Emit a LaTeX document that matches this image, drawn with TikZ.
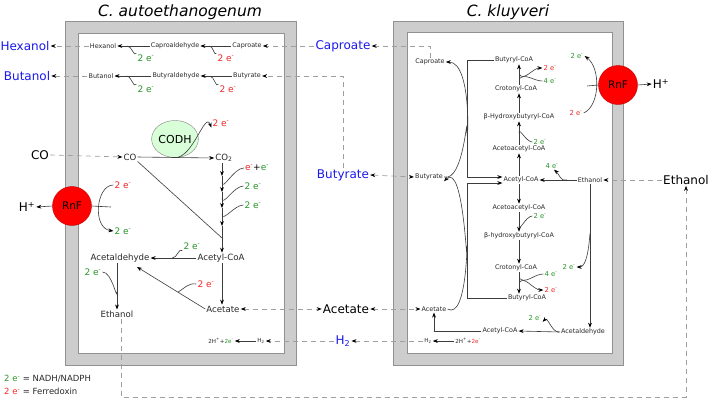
\documentclass[tikz,border=0pt]{standalone}
\usepackage{fontspec}
\setmainfont{DejaVu Sans}
\usetikzlibrary{arrows.meta,calc,shapes.geometric}
\definecolor{eg}{RGB}{40,150,40}
\definecolor{er}{RGB}{240,40,40}
\definecolor{eb}{RGB}{25,25,235}
\definecolor{dk}{RGB}{40,40,40}
\definecolor{lncol}{RGB}{60,60,60}
\definecolor{boxgray}{RGB}{205,205,205}
\definecolor{boxedge}{RGB}{145,145,145}
\newcommand{\el}{2 e\textsuperscript{-}}
\begin{document}
\begin{tikzpicture}[x=1pt,y=-1pt,
  >={Stealth[length=5pt,width=3.8pt,color=black]},
  sm/.style={font=\fontsize{6.4}{7}\selectfont, text=dk, inner sep=1pt},
  md/.style={font=\fontsize{8.6}{10}\selectfont, text=dk, inner sep=1pt},
  lg/.style={font=\fontsize{12}{14}\selectfont, inner sep=1pt},
  tn/.style={font=\fontsize{5.6}{6}\selectfont, text=dk, inner sep=1pt},
  ttl/.style={font=\fontsize{15.5}{18}\selectfont\itshape, inner sep=0pt},
  elg/.style={font=\fontsize{9}{10}\selectfont, text=eg, inner sep=1pt},
  elr/.style={font=\fontsize{9}{10}\selectfont, text=er, inner sep=1pt},
  rlg/.style={font=\fontsize{6.8}{8}\selectfont, text=eg, inner sep=1pt},
  rlr/.style={font=\fontsize{6.8}{8}\selectfont, text=er, inner sep=1pt},
  leg/.style={font=\fontsize{8.5}{10}\selectfont, text=dk, inner sep=0pt},
  conn/.style={draw=lncol, line width=0.6pt},
  dsh/.style={draw=gray!75, line width=0.7pt, dash pattern=on 5pt off 4pt},
  darr/.style={dsh, ->},
  dbarr/.style={dsh, <->},
  rnf/.style={circle, fill=red, draw=red!75!black, minimum size=39pt, inner sep=0pt, font=\fontsize{10.5}{12}\selectfont},
  codh/.style={ellipse, fill=green!15, draw=gray, minimum width=44pt, minimum height=37pt, inner sep=0pt, font=\fontsize{11}{12}\selectfont}
]
\useasboundingbox (0,0) rectangle (709,400);

% cells
\filldraw[fill=boxgray, draw=boxedge] (65,21) rectangle (296,365);
\filldraw[fill=white, draw=boxedge] (78,33) rectangle (284,353);
\filldraw[fill=boxgray, draw=boxedge] (393,21) rectangle (623,365);
\filldraw[fill=white, draw=boxedge] (407,32) rectangle (612,353);

% titles
\node[ttl] (t1) at (180,12) {C. autoethanogenum};
\node[ttl] (t2) at (508,12) {C. kluyveri};

% outside labels
\node[lg, text=eb] (Hex) at (25,46) {Hexanol};
\node[lg, text=eb] (But) at (27,76) {Butanol};
\node[lg, text=eb] (Cap) at (343,46) {Caproate};
\node[lg, text=eb] (Buty) at (343,175) {Butyrate};
\node[lg] (COb) at (40,155) {CO};
\node[lg] (Acb) at (346,309) {Acetate};
\node[lg, text=eb] (H2) at (343,341) {H\textsubscript{2}};
\node[lg] (Eth) at (686,180) {Ethanol};
\node[lg] (Hl) at (27,207) {H\textsuperscript{+}};
\node[lg] (Hr) at (661,84) {H\textsuperscript{+}};

% ---------- left cell ----------
\node[sm] (lhex) at (103,46) {Hexanol};
\node[sm] (lcapal) at (175,46) {Caproaldehyde};
\node[sm] (lcap) at (247,46) {Caproate};
\node[sm] (lbut) at (101,76) {Butanol};
\node[sm] (lbutal) at (176,76) {Butyraldehyde};
\node[sm] (lbutr) at (247,76) {Butyrate};
\node[elg] (e1) at (146,58) {\el};
\node[elr] (e2) at (226,58) {\el};
\node[elg] (e3) at (146,89) {\el};
\node[elr] (e4) at (228,89) {\el};

\draw[conn,->] (lcap.west) -- (lcapal.east);
\draw[conn,->] (lcapal.west) -- (lhex.east);
\draw[conn,->] (lbutr.west) -- (lbutal.east);
\draw[conn,->] (lbutal.west) -- (lbut.east);
\draw[conn] (e2.north west) to[out=-125,in=0] ($(lcapal.east)+(9,0)$);
\draw[conn] (e1.north west) to[out=-125,in=0] ($(lhex.east)+(10,0)$);
\draw[conn] (e4.north west) to[out=-125,in=0] ($(lbutal.east)+(9,0)$);
\draw[conn] (e3.north west) to[out=-125,in=0] ($(lbut.east)+(12,0)$);

\node[codh] (codh) at (175,139) {CODH};
\node[md] (co) at (130,157) {CO};
\node[md] (co2) at (224,158) {CO\textsubscript{2}};
\node[elr] (e5) at (221,123) {\el};
\draw[conn,->] (co.east) -- (co2.west);
\draw[conn,->] (codh.south) to[out=0,in=110] (e5.south west);

\node[md] (acoa) at (221,258) {Acetyl-CoA};
\node[md] (ald) at (120,258) {Acetaldehyde};
\node[md] (eth) at (117,314) {Ethanol};
\node[md] (ac) at (223,309) {Acetate};

\coordinate (vx) at (222,0);
\coordinate (p1) at (222,176);
\coordinate (p2) at (222,192);
\coordinate (p3) at (222,208);
\coordinate (p4) at (222,226);
\draw[conn,->] (co2.south -| vx) -- (p1);
\draw[conn,->] (p1) -- (p2);
\draw[conn,->] (p2) -- (p3);
\draw[conn,->] (p3) -- (p4);
\draw[conn,->] (p4) -- (acoa.north -| vx);
\node[font=\fontsize{9}{10}\selectfont, inner sep=1pt] (e6) at (257,168) {\textcolor{er}{e\textsuperscript{-}}+\textcolor{eg}{e\textsuperscript{-}}};
\node[elg] (e7) at (253,186) {\el};
\node[elg] (e8) at (253,205) {\el};
\draw[conn] (e6.west) to[out=180,in=-90] (222,182);
\draw[conn] (e7.west) to[out=180,in=-90] (222,198);
\draw[conn] (e8.west) to[out=180,in=-90] (222,214);
\draw[conn] (co.south east) -- (222,238);

\node[elg] (e9) at (192,246) {\el};
\draw[conn,->] (acoa.west) -- (ald.east);
\draw[conn] (e9.south west) to[out=135,in=0] ($(acoa.west)+(-24,0)$);
\draw[conn,->] (acoa.south -| vx) -- (ac.north -| vx);

\coordinate (aldin) at (137,267);
\draw[conn,->] (ac.west) -- (aldin);
\node[elr] (e10) at (206,284) {\el};
\draw[conn] (e10.west) to[out=170,in=32] ($(ac.west)!0.4!(aldin)$);

\node[elg] (e11) at (93,272) {\el};
\draw[conn,->] (ald.south -| eth.north) -- (eth.north);
\draw[conn] (e11.east) to[out=0,in=-90] (117,292);

\node[tn] (h2l) at (261,341) {H\textsubscript{2}};
\node[tn] (hpl) at (221,341) {2H\textsuperscript{+}+\textcolor{eg}{2e}\textsuperscript{-}};
\draw[conn,->] (h2l.west) -- (hpl.east);

% left RnF
\node[rnf] (rnfl) at (72,206) {RnF};
\coordinate (rlend) at (111,207);
\draw[conn,->] (rnfl.west) -- (Hl.east);
\draw[conn] (rnfl.east) -- (rlend);
\node[elr] (e12) at (123,185) {\el};
\node[elg] (e13) at (123,231) {\el};
\draw[conn,->] (e12.west) .. controls (96,185) and (92,228) .. (e13.west);

% legend
\node[leg, anchor=west] (lg1) at (4,379) {\textcolor{eg}{\el} = NADH/NADPH};
\node[leg, anchor=west] (lg2) at (4,391) {\textcolor{er}{\el} = Ferredoxin};

% ---------- right cell ----------
\node[sm] (rcap) at (430,62) {Caproate};
\node[sm] (rbut) at (429,177) {Butyrate};
\node[sm] (rac) at (434,309) {Acetate};
\node[tn] (rh2) at (428,341) {H\textsubscript{2}};
\node[tn] (rhp) at (468,341) {2H\textsuperscript{+}+\textcolor{er}{2e}\textsuperscript{-}};
\node[sm] (bc1) at (514,60) {Butyryl-CoA};
\node[sm] (cc1) at (516,89) {Crotonyl-CoA};
\node[sm] (hb1) at (519,117) {β-Hydroxybutyryl-CoA};
\node[sm] (aa1) at (519,149) {Acetoacetyl-CoA};
\node[sm] (acr) at (521,180) {Acetyl-CoA};
\node[sm] (aa2) at (519,208) {Acetoacetyl-CoA};
\node[sm] (hb2) at (519,236) {β-hydroxybutyryl-CoA};
\node[sm] (cc2) at (516,268) {Crotonyl-CoA};
\node[sm] (bc2) at (527,298) {Butyryl-CoA};
\node[sm] (reth) at (590,180) {Ethanol};
\node[sm] (rald) at (583,332) {Acetaldehyde};
\node[sm] (racoa) at (500,331) {Acetyl-CoA};

\coordinate (cx) at (519,0);
\draw[conn,->] (acr.north -| cx) -- (aa1.south -| cx);
\draw[conn,->] (aa1.north -| cx) -- (hb1.south -| cx);
\draw[conn,->] (hb1.north -| cx) -- (cc1.south -| cx);
\draw[conn,->] (cc1.north -| cx) -- (bc1.south -| cx);
\draw[conn,->] (acr.south -| cx) -- (aa2.north -| cx);
\draw[conn,->] (aa2.south -| cx) -- (hb2.north -| cx);
\draw[conn,->] (hb2.south -| cx) -- (cc2.north -| cx);
\draw[conn,->] (cc2.south -| cx) -- (bc2.north -| cx);

\node[rlr] (r1) at (550,68) {\el};
\node[rlg] (g1) at (550,81) {4 e\textsuperscript{-}};
\draw[conn] (g1.west) to[out=180,in=45] (519,79);
\draw[conn,->] (519,74) to[out=-60,in=180] (r1.west);
\node[rlg] (g2) at (540,142) {\el};
\draw[conn] (g2.west) to[out=180,in=90] (519,133);
\node[rlg] (g3) at (552,166) {4 e\textsuperscript{-}};
\node[rlg] (g4) at (540,216) {\el};
\draw[conn] (g4.west) to[out=180,in=-90] (519,226);
\node[rlg] (g5) at (551,274) {4 e\textsuperscript{-}};
\node[rlr] (r5) at (551,290) {\el};
\draw[conn] (g5.west) to[out=180,in=-45] (519,278);
\draw[conn,->] (519,283) to[out=60,in=180] (r5.west);

\draw[conn,->] (reth.west) -- (acr.east);
\draw[conn,->] (567,180) to[out=-160,in=-40] ($(g3.south)+(2,0)$);

\draw[conn,->] (reth.south) -- (reth.south |- rald.north);
\node[rlg] (g6) at (569,267) {\el};
\draw[conn,->] (590,236) to[out=90,in=0] (g6.east);

\draw[conn,->] (rald.west) -- (racoa.east);
\node[rlg] (g7) at (535,318) {\el};
\draw[conn,->] ($(rald.west)+(-1,0)$) to[out=180,in=45] (g7.south east);
\draw[conn,->] (racoa.west) -| (rac.south);
\draw[conn,->] (rhp.west) -- (rh2.east);

% brackets to Acetyl-CoA
\draw[conn,->] (bc1.west) -| ($(acr.west)+(-35,-3)$) -- ($(acr.west)+(0,-3)$);
\draw[conn,->] (bc2.west) -| ($(acr.west)+(-35,3)$) -- ($(acr.west)+(0,3)$);

% curves
\draw[conn,->] (rbut.east) to[out=-15,in=90] (467,130) to[out=-90,in=0] (rcap.east);
\draw[conn,->] (rac.east) to[out=-30,in=90] (467,250) to[out=-90,in=45] (rbut.south east);

% right RnF
\node[rnf] (rnfr) at (618,85) {RnF};
\coordinate (rrend) at (587,86);
\draw[conn,->] (rnfr.east) -- (Hr.west);
\draw[conn] (rnfr.west) -- (rrend);
\node[rlr] (r8) at (576,113) {\el};
\node[rlg] (g8) at (577,56) {\el};
\draw[conn,->] (r8.east) .. controls (600,106) and (601,68) .. (g8.east);

% ---------- dashed exchanges ----------
\draw[darr] (lhex.west) -- (Hex.east);
\draw[darr] (lbut.west) -- (But.east);
\draw[darr] (Cap.west) -- (lcap.east);
\draw[darr] (rcap.north) |- (Cap.east);
\draw[darr] (Buty.north) |- (lbutr.east);
\draw[dbarr] (Buty.east) -- (rbut.west);
\draw[darr] (COb.east) -- (co.west);
\draw[dbarr] (ac.east) -- (Acb.west);
\draw[dbarr] (Acb.east) -- (rac.west);
\draw[darr] (H2.west) -- (h2l.east);
\draw[darr] (rh2.west) -- (H2.east);
\draw[darr] (Eth.west) -- (reth.east);
\coordinate (bcorner) at (686,397);
\draw[darr] ($(eth.south)+(4,0)$) |- (bcorner) -- (Eth.south);
\end{tikzpicture}
\end{document}
